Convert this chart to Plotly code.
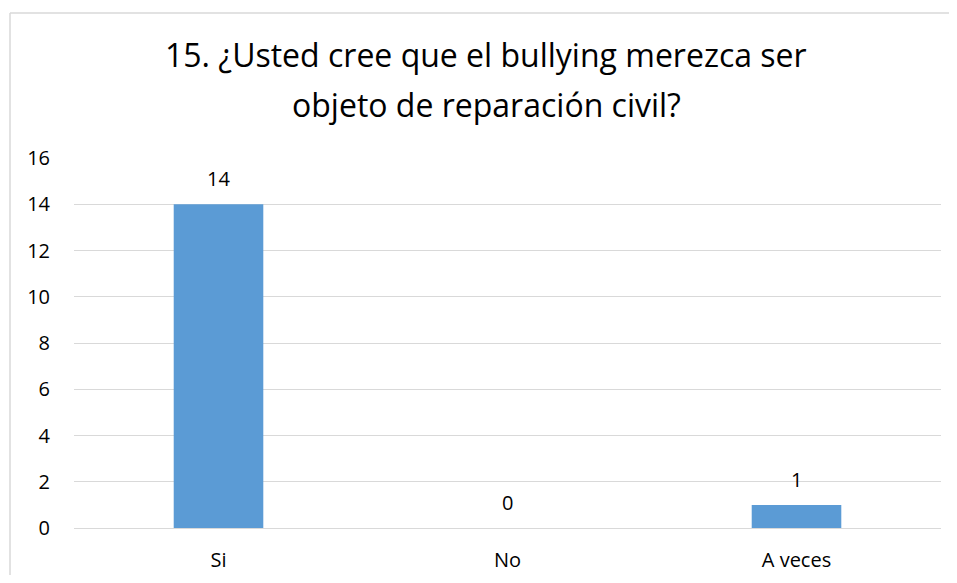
import plotly.graph_objects as go

categories = ["Si", "No", "A veces"]
values = [14, 0, 1]
y_ticks = [0, 2, 4, 6, 8, 10, 12, 14, 16]
title_lines = ["15. ¿Usted cree que el bullying merezca ser", "objeto de reparación civil?"]

FONT = "Open Sans"
OFF = 8  # default page body margin
W, H = 957 - 2 * OFF, 583 - 2 * OFF
ml, mt = 74 - OFF, 158 - OFF
mr = W - (941 - OFF)
mb = H - (528 - OFF)
pw, ph = W - ml - mr, H - mt - mb


def px_x(page_x):
    return (page_x - OFF - ml) / pw


def px_y(page_y):
    return (H - mb - (page_y - OFF)) / ph


fig = go.Figure()
fig.add_trace(go.Bar(
    x=categories, y=values,
    marker=dict(color="#5B9BD5", line=dict(width=0)),
    width=0.31,
    hoverinfo="skip",
))

for c, v in zip(categories, values):
    fig.add_annotation(x=c, y=v, text=str(v), showarrow=False,
                       yanchor="bottom", yshift=10,
                       font=dict(family=FONT, size=20, color="#000000"))

for line, py in zip(title_lines, [55, 105]):
    fig.add_annotation(xref="paper", yref="paper", x=px_x(486), y=px_y(py),
                       text=line, showarrow=False, xanchor="center", yanchor="middle",
                       font=dict(family=FONT, size=32, color="#000000"))

# chart-area border (left and top edges; the others fall outside the picture)
border = dict(color="#D9D9D9", width=1.5)
fig.add_shape(type="line", xref="paper", yref="paper",
              x0=px_x(10), x1=px_x(10), y0=px_y(600), y1=px_y(13), line=border, layer="below")
fig.add_shape(type="line", xref="paper", yref="paper",
              x0=px_x(10), x1=px_x(960), y0=px_y(13), y1=px_y(13), line=border, layer="below")

fig.update_layout(
    width=W, height=H,
    margin=dict(l=ml, r=mr, t=mt, b=mb, pad=0, autoexpand=False),
    paper_bgcolor="white", plot_bgcolor="white",
    showlegend=False,
    xaxis=dict(showgrid=False, showline=False, zeroline=False, automargin=False,
               ticks="", ticklabelstandoff=18,
               tickfont=dict(family=FONT, size=20, color="#000000")),
    yaxis=dict(range=[0, 16], tickvals=y_ticks, showgrid=True, automargin=False,
               gridcolor="#D9D9D9", gridwidth=1, zeroline=True,
               zerolinecolor="#D9D9D9", zerolinewidth=1, showline=False,
               ticks="", ticklabelstandoff=23,
               tickfont=dict(family=FONT, size=20, color="#000000")),
)

fig.write_html("out.html")
